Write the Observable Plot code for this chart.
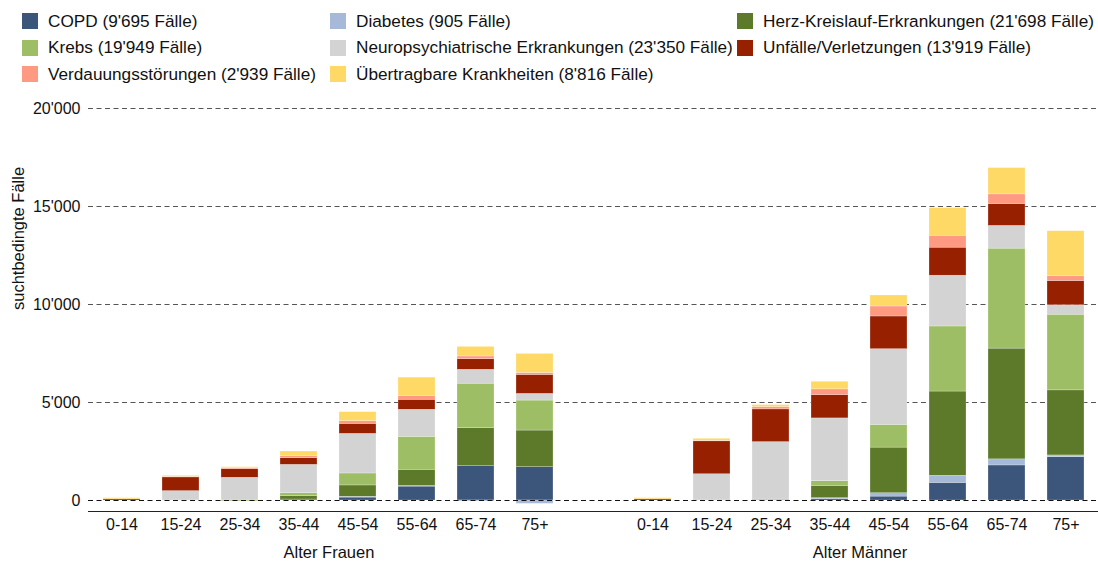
<!DOCTYPE html>
<html>
<head>
<meta charset="utf-8">
<script src="https://cdn.jsdelivr.net/npm/d3@7"></script>
<script src="https://cdn.jsdelivr.net/npm/@observablehq/plot@0.6"></script>
<style>
  html, body { margin: 0; padding: 0; background: #fff; }
  body { font-family: "Liberation Sans", Arial, Helvetica, sans-serif; color: #111; width: 1098px; }
  .legend { display: grid; grid-template-columns: 308px 407px 361px; grid-auto-rows: 26.5px; padding: 8px 0 0 22px; height: 82px; font-size: 17.2px; }
  .item { display: flex; align-items: center; white-space: nowrap; }
  .sw { width: 16px; height: 16px; margin-right: 10px; flex: none; }
  svg { display: block; }
</style>
</head>
<body>
<div class="legend" id="legend"></div>
<div id="chart"></div>
<script>
// ---- data ----
const ages = ["0-14", "15-24", "25-34", "35-44", "45-54", "55-64", "65-74", "75+"];
const groups = ["Frauen", "Männer"];
const categories = ["COPD", "Diabetes", "Herz-Kreislauf-Erkrankungen", "Krebs",
  "Neuropsychiatrische Erkrankungen", "Unfälle/Verletzungen", "Verdauungsstörungen", "Übertragbare Krankheiten"];
const legendLabels = ["COPD (9'695 Fälle)", "Diabetes (905 Fälle)", "Herz-Kreislauf-Erkrankungen (21'698 Fälle)",
  "Krebs (19'949 Fälle)", "Neuropsychiatrische Erkrankungen (23'350 Fälle)", "Unfälle/Verletzungen (13'919 Fälle)",
  "Verdauungsstörungen (2'939 Fälle)", "Übertragbare Krankheiten (8'816 Fälle)"];
const colors = ["#3b557b", "#a6b9d8", "#5c7a2a", "#9dbe64", "#d3d3d3", "#962000", "#ff9a82", "#fed966"];
// values: first 8 = Frauen by age, next 8 = Männer by age
const copd        = [0, 0, 0, 50, 150, 710, 1750, 1700,      0, 0, 0, 70, 200, 900, 1790, 2210];
const diabetes    = [0, 0, 0, 0, 40, 30, -50, -170,          0, 0, 0, 50, 170, 360, 310, 90];
const herz        = [0, 0, 0, 170, 580, 830, 1950, 1870,     0, 0, 0, 630, 2330, 4300, 5650, 3320];
const krebs       = [0, 0, -50, 150, 610, 1680, 2260, 1530,  0, 0, 50, 240, 1160, 3320, 5100, 3860];
const neuro       = [0, 480, 1160, 1450, 2020, 1380, 710, 340, 0, 1340, 2930, 3200, 3860, 2590, 1160, 480];
const unfaelle    = [60, 700, 440, 340, 510, 510, 540, 970,  60, 1680, 1670, 1190, 1670, 1430, 1120, 1240];
const verdauung   = [0, 30, 50, 100, 140, 200, 140, 100,     0, 30, 120, 290, 510, 610, 490, 240];
const uebertragbar= [60, 50, 50, 240, 460, 930, 490, 970,    60, 100, 100, 390, 560, 1410, 1340, 2300];
const yTicks = [0, 5000, 10000, 15000, 20000];
const yDomain = [-560, 20000];

// ---- build ----
const series = [copd, diabetes, herz, krebs, neuro, unfaelle, verdauung, uebertragbar];
const key = (g, a) => g + "|" + a;
const keysF = ages.map(a => key("Frauen", a));
const keysM = ages.map(a => key("Männer", a));
const xDomain = [...keysF, "gap", ...keysM];
const rows = [];
categories.forEach((c, ci) => {
  groups.forEach((g, gi) => {
    ages.forEach((a, ai) => {
      rows.push({category: c, x: key(g, a), value: series[ci][gi * 8 + ai]});
    });
  });
});

const legend = document.getElementById("legend");
legendLabels.forEach((l, i) => {
  const d = document.createElement("div");
  d.className = "item";
  d.innerHTML = `<span class="sw" style="background:${colors[i]}"></span><span>${l}</span>`;
  legend.appendChild(d);
});

const fmt = d3.formatLocale({decimal: ".", thousands: "'", grouping: [3], currency: ["", ""]}).format(",");

const chart = Plot.plot({
  width: 1098,
  height: 474,
  marginLeft: 88,
  marginRight: 0,
  marginTop: 18,
  marginBottom: 53,
  style: {fontFamily: "'Liberation Sans', Arial, Helvetica, sans-serif", fontSize: "16px", color: "#111"},
  x: {type: "band", domain: xDomain, paddingInner: 0.38, paddingOuter: 0.195, axis: null},
  y: {domain: yDomain, axis: null},
  color: {domain: categories, range: colors},
  marks: [
    Plot.ruleY(yTicks.filter(d => d !== 0), {stroke: "#555", strokeWidth: 1.2, strokeDasharray: "5,3.5"}),
    Plot.barY(rows, Plot.stackY({
      x: "x", y: "value", fill: "category", order: categories,
      stroke: "white", strokeWidth: 0.5, strokeOpacity: 0.5
    })),
    Plot.ruleY([0], {stroke: "#111", strokeWidth: 1.2, strokeDasharray: "5,3.5"}),
    Plot.ruleY([yDomain[0]], {stroke: "#222", strokeWidth: 1.2}),
    Plot.axisY({ticks: yTicks, tickFormat: fmt, tickSize: 0, tickPadding: 8, fontSize: 16,
      label: null}),
    Plot.text(["suchtbedingte Fälle"], {frameAnchor: "left", text: d => d, rotate: -90, dx: -70, fontSize: 16.5}),
    Plot.axisX({ticks: [...keysF, ...keysM], tickFormat: d => d.split("|")[1], tickSize: 0, tickPadding: 7, fontSize: 16, label: null}),
    Plot.text(groups, {x: g => key(g, "35-44"), text: g => "Alter " + g, dx: 30, frameAnchor: "bottom", dy: 46, fontSize: 16.5})
  ]
});
document.getElementById("chart").appendChild(chart);
</script>
</body>
</html>
